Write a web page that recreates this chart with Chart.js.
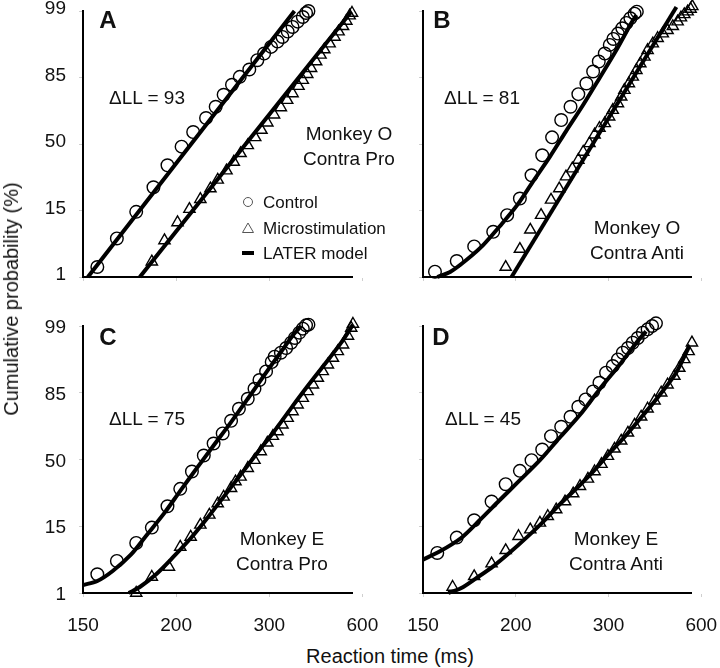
<!DOCTYPE html>
<html>
<head>
<meta charset="utf-8">
<script src="https://cdn.jsdelivr.net/npm/chart.js@4.4.0/dist/chart.umd.min.js"></script>
<style>
body { margin: 0; background: #fff; }
#fig { position: relative; width: 720px; height: 668px; overflow: hidden;
       font-family: Arial, "Liberation Sans", sans-serif; color: #111; }
.pan { position: absolute; }
.t { position: absolute; transform: translate(-50%, -50%); line-height: 1; white-space: nowrap; font-size: 19px; }
.lt { font-weight: bold; font-size: 24px; }
</style>
</head>
<body>
<div id="fig">
  <div class="pan" style="left:0;top:0;width:400px;height:300px"><canvas id="cA"></canvas></div>
  <div class="pan" style="left:380px;top:0;width:340px;height:300px"><canvas id="cB"></canvas></div>
  <div class="pan" style="left:0;top:300px;width:400px;height:340px"><canvas id="cC"></canvas></div>
  <div class="pan" style="left:380px;top:300px;width:340px;height:340px"><canvas id="cD"></canvas></div>

  <div class="t lt" style="left:108px;top:20px">A</div>
  <div class="t lt" style="left:442px;top:20px">B</div>
  <div class="t lt" style="left:108px;top:337px">C</div>
  <div class="t lt" style="left:441px;top:337px">D</div>

  <div class="t" style="left:147px;top:97px">&Delta;LL = 93</div>
  <div class="t" style="left:482px;top:97px">&Delta;LL = 81</div>
  <div class="t" style="left:147px;top:418px">&Delta;LL = 75</div>
  <div class="t" style="left:483px;top:418px">&Delta;LL = 45</div>

  <div class="t" style="left:349px;top:133px">Monkey O</div>
  <div class="t" style="left:349px;top:158px">Contra Pro</div>
  <div class="t" style="left:637px;top:227px">Monkey O</div>
  <div class="t" style="left:637px;top:252px">Contra Anti</div>
  <div class="t" style="left:282px;top:538px">Monkey E</div>
  <div class="t" style="left:282px;top:563px">Contra Pro</div>
  <div class="t" style="left:616px;top:538px">Monkey E</div>
  <div class="t" style="left:616px;top:563px">Contra Anti</div>

  <div class="t" style="left:11px;top:299px;font-size:20px;transform:translate(-50%,-50%) rotate(-90deg)">Cumulative probability (%)</div>
  <div class="t" style="left:390px;top:656px;font-size:20px">Reaction time (ms)</div>
</div>

<script>
// reaction time (ms), probit position (tick units: 1%=-2 ... 99%=+2)
const xTickMs = [150, 200, 300, 600];
const xEndMs = 540;
const yTickPct = [1, 15, 50, 85, 99];
const yTickZ = [-2, -1, 0, 1, 2];

// A: Monkey O, Contra Pro
const ctrlA = [[156,-1.85],[165,-1.42],[175,-1.02],[185,-0.65],[194,-0.32],[204,-0.04],[213,0.18],[224,0.39],[233,0.56],[241,0.74],[250,0.89],[259,1.01],[271,1.12],[282,1.26],[292,1.36],[303,1.46],[314,1.54],[323,1.61],[333,1.69],[343,1.76],[354,1.84],[366,1.91],[374,1.97],[380,2.0]];
const stimA = [[184,-1.77],[192,-1.45],[201,-1.18],[210,-0.98],[219,-0.83],[228,-0.67],[235,-0.54],[244,-0.40],[252,-0.27],[260,-0.14],[269,-0.02],[279,0.10],[288,0.21],[297,0.32],[308,0.44],[320,0.55],[332,0.66],[343,0.76],[356,0.87],[366,0.96],[377,1.05],[387,1.14],[401,1.24],[414,1.34],[426,1.42],[444,1.51],[462,1.61],[478,1.69],[497,1.77],[512,1.85],[528,1.93],[540,1.97]];
const fitCtrlA = [[152,-2.0],[347,2.0]];
const fitStimA = [[177,-2.0],[536,1.99]];

// B: Monkey O, Contra Anti
const ctrlB = [[155,-1.92],[165,-1.76],[174,-1.54],[185,-1.32],[194,-1.07],[203,-0.82],[212,-0.47],[221,-0.17],[230,0.10],[239,0.36],[249,0.56],[258,0.75],[268,0.91],[277,1.09],[285,1.24],[294,1.36],[302,1.49],[308,1.58],[316,1.66],[324,1.74],[332,1.82],[340,1.89],[349,1.96],[354,1.99]];
const stimB = [[193,-1.85],[203,-1.58],[211,-1.29],[220,-1.07],[229,-0.84],[237,-0.67],[244,-0.49],[251,-0.37],[258,-0.24],[264,-0.12],[272,0.01],[279,0.14],[286,0.24],[294,0.31],[301,0.41],[307,0.51],[316,0.61],[322,0.71],[328,0.81],[337,0.91],[345,1.01],[353,1.11],[362,1.21],[372,1.31],[380,1.41],[394,1.51],[408,1.59],[424,1.66],[440,1.71],[459,1.77],[478,1.84],[492,1.90],[507,1.95],[523,1.99],[538,2.03],[547,2.07]];
const fitCtrlB = [[156,-2.0],[162,-1.92],[170,-1.74],[179,-1.52],[189,-1.24],[201,-0.92],[213,-0.57],[228,-0.19],[244,0.19],[264,0.59],[286,0.99],[313,1.41],[342,1.82],[353,1.94]];
const fitStimB = [[197,-2.0],[473,2.06]];

// C: Monkey E, Contra Pro
const ctrlC = [[156,-1.72],[165,-1.52],[175,-1.25],[184,-1.02],[194,-0.70],[203,-0.44],[212,-0.18],[222,0.06],[231,0.24],[240,0.39],[249,0.58],[258,0.76],[269,0.91],[278,1.06],[285,1.19],[295,1.32],[304,1.46],[309,1.54],[320,1.60],[330,1.67],[340,1.75],[348,1.82],[358,1.90],[366,1.96],[374,2.01],[380,2.02]];
const stimC = [[175,-2.0],[184,-1.76],[195,-1.61],[203,-1.31],[211,-1.16],[219,-0.98],[227,-0.83],[235,-0.66],[241,-0.56],[249,-0.43],[254,-0.33],[260,-0.26],[269,-0.13],[278,-0.01],[287,0.12],[297,0.25],[306,0.35],[314,0.42],[323,0.52],[333,0.62],[343,0.72],[354,0.82],[366,0.92],[378,1.02],[392,1.12],[406,1.22],[421,1.32],[438,1.42],[456,1.52],[475,1.62],[497,1.72],[520,1.85],[536,1.97],[545,2.03]];
const fitCtrlC = [[150,-1.88],[156,-1.82],[163,-1.67],[172,-1.43],[181,-1.13],[192,-0.80],[203,-0.47],[216,-0.13],[231,0.21],[249,0.56],[269,0.91],[292,1.26],[320,1.61],[347,1.89],[362,2.0]];
const fitStimC = [[171,-2.0],[177,-1.91],[187,-1.71],[198,-1.46],[211,-1.18],[225,-0.88],[241,-0.56],[260,-0.23],[282,0.10],[308,0.42],[340,0.77],[378,1.10],[426,1.42],[489,1.75],[545,2.02]];

// D: Monkey E, Contra Anti
const ctrlD = [[156,-1.40],[165,-1.17],[174,-0.91],[184,-0.63],[193,-0.37],[203,-0.17],[212,-0.01],[221,0.15],[229,0.35],[239,0.49],[249,0.64],[258,0.79],[267,0.90],[277,1.02],[286,1.15],[296,1.30],[307,1.40],[316,1.50],[325,1.60],[335,1.67],[345,1.75],[356,1.82],[368,1.90],[380,1.95],[392,2.0],[403,2.04]];
const stimD = [[163,-1.91],[174,-1.75],[184,-1.56],[193,-1.36],[202,-1.15],[211,-1.05],[219,-0.95],[226,-0.85],[234,-0.75],[243,-0.63],[252,-0.51],[260,-0.40],[270,-0.29],[279,-0.18],[289,-0.07],[299,0.05],[310,0.16],[322,0.28],[335,0.40],[349,0.52],[364,0.64],[380,0.76],[399,0.88],[419,1.00],[440,1.12],[465,1.25],[485,1.37],[507,1.50],[528,1.62],[545,1.75]];
const fitCtrlD = [[150,-1.50],[157,-1.38],[167,-1.18],[177,-0.91],[189,-0.61],[203,-0.31],[219,-0.01],[237,0.32],[260,0.67],[286,1.05],[319,1.42],[353,1.75],[376,1.92]];
const fitStimD = [[161,-2.0],[167,-1.93],[175,-1.78],[185,-1.60],[196,-1.39],[208,-1.17],[222,-0.93],[237,-0.68],[256,-0.43],[277,-0.18],[302,0.10],[332,0.37],[368,0.66],[413,0.96],[472,1.30],[531,1.70]];

const FONT = 'Arial, "Liberation Sans", sans-serif';
Chart.defaults.font.family = FONT;
Chart.defaults.color = '#111';

// reciprocal time axis: plot -1000/RT so the ticks fall evenly
const toX = ms => -1000 / ms;
const pts = arr => arr.map(([ms, z]) => ({ x: toX(ms), y: z }));

// keep the plot box fixed: no extra room for overhanging tick labels
const noPad = s => { s.paddingLeft = s.paddingRight = s.paddingTop = s.paddingBottom = 0; };

const legendA = {
  id: 'legendA',
  afterDraw(chart) {
    const g = chart.ctx;
    g.save();
    g.strokeStyle = '#555';
    g.lineWidth = 1;
    g.beginPath(); g.arc(248, 202, 4.5, 0, Math.PI * 2); g.stroke();
    g.beginPath(); g.moveTo(248, 223); g.lineTo(253.5, 232.5); g.lineTo(242.5, 232.5); g.closePath(); g.stroke();
    g.fillStyle = '#000';
    g.fillRect(242, 251, 12, 4);
    g.fillStyle = '#111';
    g.font = '17px ' + FONT;
    g.textBaseline = 'middle';
    g.fillText('Control', 263, 203);
    g.fillText('Microstimulation', 263, 229);
    g.fillText('LATER model', 263, 254);
    g.restore();
  }
};

function panel(id, ctrl, stim, fitCtrl, fitStim, isLeft, isBottom, extra) {
  const fitLine = d => ({
    data: pts(d), showLine: true, pointRadius: 0, borderColor: '#000',
    borderWidth: 4, tension: 0.3, clip: false, order: 0
  });
  const grid = { drawOnChartArea: false, drawTicks: true, tickLength: 4, color: '#cfcfcf' };
  const border = { color: '#000', width: 2 };
  new Chart(document.getElementById(id), {
    type: 'scatter',
    data: {
      datasets: [
        fitLine(fitCtrl),
        fitLine(fitStim),
        { label: 'Control', data: pts(ctrl), pointStyle: 'circle', pointRadius: 6.3,
          borderColor: '#000', borderWidth: 1.4, backgroundColor: 'rgba(0,0,0,0)', clip: false, order: 1 },
        { label: 'Microstimulation', data: pts(stim), pointStyle: 'triangle', pointRadius: 6.5,
          borderColor: '#000', borderWidth: 1.4, backgroundColor: 'rgba(0,0,0,0)', clip: false, order: 1 }
      ]
    },
    options: {
      responsive: true, maintainAspectRatio: false, animation: false,
      layout: { padding: { top: isBottom ? 26 : 11, right: isLeft ? 48 : 29, left: 0, bottom: 0 } },
      plugins: { legend: { display: false }, tooltip: { enabled: false } },
      scales: {
        x: {
          type: 'linear', min: toX(150), max: toX(xEndMs),
          afterBuildTicks: s => { s.ticks = xTickMs.map(v => ({ value: toX(v) })); },
          afterFit: s => { s.height = isBottom ? 47 : 23; noPad(s); },
          ticks: { display: isBottom, autoSkip: false, maxRotation: 0, padding: 17,
                   font: { size: 19 }, callback: (v, i) => xTickMs[i] },
          grid, border
        },
        y: {
          min: -2, max: 2,
          afterBuildTicks: s => { s.ticks = yTickZ.map(v => ({ value: v })); },
          afterFit: s => { s.width = isLeft ? 83 : 43; noPad(s); },
          ticks: { display: isLeft, padding: 13, labelOffset: isBottom ? 2 : -2,
                   font: { size: 19 }, callback: (v, i) => yTickPct[i] },
          grid, border
        }
      }
    },
    plugins: extra ? [extra] : []
  });
}

panel('cA', ctrlA, stimA, fitCtrlA, fitStimA, true, false, legendA);
panel('cB', ctrlB, stimB, fitCtrlB, fitStimB, false, false);
panel('cC', ctrlC, stimC, fitCtrlC, fitStimC, true, true);
panel('cD', ctrlD, stimD, fitCtrlD, fitStimD, false, true);
</script>
</body>
</html>
